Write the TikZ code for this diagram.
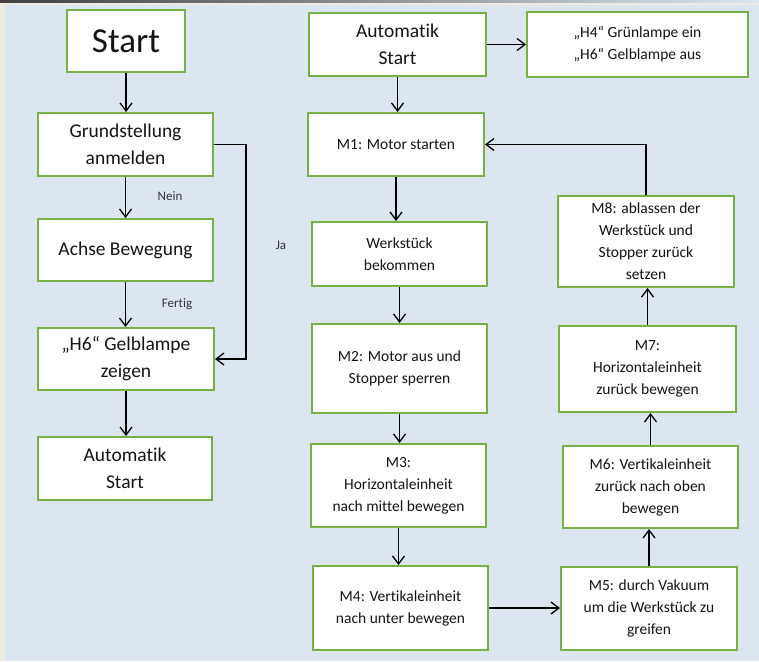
\documentclass[tikz,border=0pt]{standalone}
\usepackage{fontspec}
\setmainfont{Carlito}[Ligatures=NoCommon]
\usetikzlibrary{arrows.meta}
\definecolor{bgblue}{RGB}{220,230,240}
\definecolor{beige}{RGB}{238,236,225}
\definecolor{boxgreen}{RGB}{119,176,70}
\definecolor{txt}{RGB}{20,20,20}
\definecolor{lbl}{RGB}{50,50,60}
\tikzset{
  box/.style={draw=boxgreen, line width=2pt, fill=white, align=center, text=txt, inner sep=2pt},
  bigfont/.style={font=\fontsize{19.5}{27}\selectfont},
  smallfont/.style={font=\fontsize{15.5}{22}\selectfont},
  arr/.style={draw=black, line width=1.3pt, -{Straight Barb[length=8pt,width=12pt,line width=1.3pt]}},
  lab/.style={font=\fontsize{13}{15}\selectfont, text=lbl}
}
\begin{document}
\begin{tikzpicture}[x=1pt,y=-1pt]
\useasboundingbox (0,0) rectangle (759,661);
% background
\fill[bgblue] (0,0) rectangle (759,661);
\fill[beige] (0,0) rectangle (5,661);
\fill[beige] (0,0) rectangle (759,5);
\shade[left color=black!75, right color=bgblue] (0,0) rectangle (759,2.2);
% left column
\node[box, minimum width=118pt, minimum height=62pt, font=\fontsize{35}{42}\selectfont] (start) at (126,41) {Start};
\node[box, bigfont, minimum width=175pt, minimum height=63pt] (grund) at (125.5,144.5) {Grundstellung\\anmelden};
\node[box, bigfont, minimum width=175pt, minimum height=62pt] (achse) at (125.5,250) {Achse Bewegung};
\node[box, bigfont, minimum width=176pt, minimum height=62pt] (h6) at (126,359) {„H6“ Gelblampe\\zeigen};
\node[box, bigfont, minimum width=174pt, minimum height=63pt] (autoL) at (125,468.5) {Automatik\\Start};
\draw[arr] (start.south) -- (start.south |- grund.north);
\draw[arr] (grund.south) -- (grund.south |- achse.north);
\draw[arr] (achse.south) -- (achse.south |- h6.north);
\draw[arr] (h6.south) -- (h6.south |- autoL.north);
\draw[arr] (grund.east) -- ++(32,0) |- (h6.east);
\node[lab] (nein) at (170,196) {Nein};
\node[lab] (fertig) at (177,304) {Fertig};
\node[lab] (ja) at (281,245) {Ja};
% right column
\node[box, bigfont, minimum width=177pt, minimum height=63pt] (autoR) at (397.5,44.5) {Automatik\\Start};
\node[box, smallfont, minimum width=221pt, minimum height=65pt] (h4) at (637.5,44.5) {„H4“ Grünlampe ein\\„H6“ Gelblampe aus};
\node[box, smallfont, minimum width=176pt, minimum height=63pt] (m1) at (396,144.5) {M1: Motor starten};
\node[box, smallfont, minimum width=175pt, minimum height=64pt] (werk) at (399.5,254) {Werkstück\\bekommen};
\node[box, smallfont, minimum width=175pt, minimum height=89pt] (m2) at (399.5,368.5) {M2: Motor aus und\\Stopper sperren};
\node[box, smallfont, minimum width=175pt, minimum height=83pt] (m3) at (398.5,485.5) {M3:\\Horizontaleinheit\\nach mittel bewegen};
\node[box, smallfont, minimum width=175pt, minimum height=84pt] (m4) at (400.5,608) {M4: Vertikaleinheit\\nach unter bewegen};
\node[box, smallfont, minimum width=176pt, minimum height=83pt] (m5) at (649,608.5) {M5: durch Vakuum\\um die Werkstück zu\\greifen};
\node[box, smallfont, minimum width=175pt, minimum height=82pt] (m6) at (650.5,487) {M6: Vertikaleinheit\\zurück nach oben\\bewegen};
\node[box, smallfont, minimum width=177pt, minimum height=86pt] (m7) at (647.5,369) {M7:\\Horizontaleinheit\\zurück bewegen};
\node[box, smallfont, minimum width=176pt, minimum height=91pt] (m8) at (646,241.5) {M8: ablassen der\\Werkstück und\\Stopper zurück\\setzen};
\draw[arr] (autoR.east) -- (autoR.east -| h4.west);
\draw[arr] (autoR.south) -- (autoR.south |- m1.north);
\draw[arr] (m1.south) -- (m1.south |- werk.north);
\draw[arr] (werk.south) -- (werk.south |- m2.north);
\draw[arr] (m2.south) -- (m2.south |- m3.north);
\draw[arr] (m3.south) -- (m3.south |- m4.north);
\draw[arr] (m4.east) -- (m4.east -| m5.west);
\draw[arr] (m5.north) -- (m5.north |- m6.south);
\draw[arr] (m6.north) -- (m6.north |- m7.south);
\draw[arr] (m7.north) -- (m7.north |- m8.south);
\draw[arr] (m8.north) |- (m1.east);
\end{tikzpicture}
\end{document}
